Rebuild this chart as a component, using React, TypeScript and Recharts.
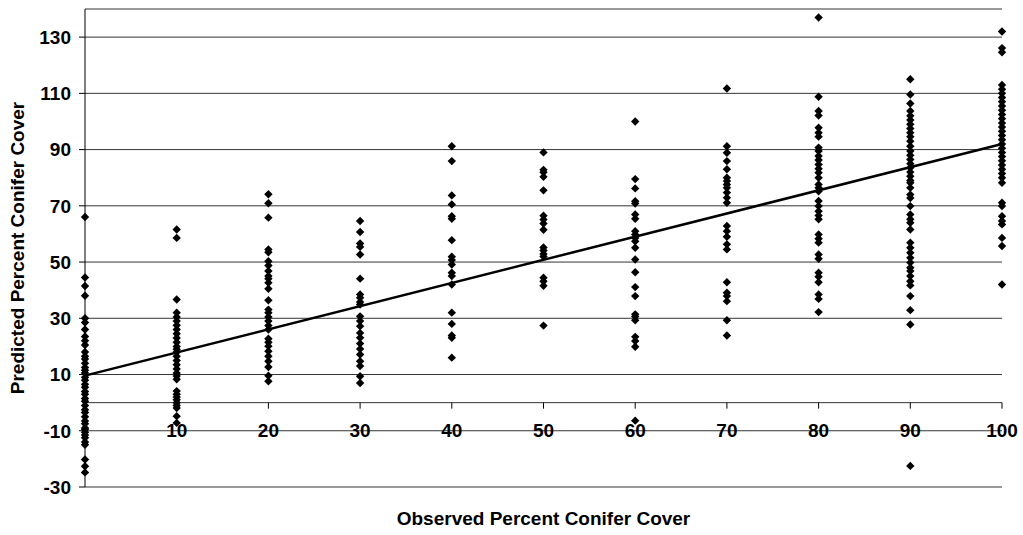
import React from 'react';
import {
  ScatterChart,
  Scatter,
  XAxis,
  YAxis,
  CartesianGrid,
  ReferenceLine,
  ReferenceDot,
} from 'recharts';

// observed cover classes (x) and the predicted values read for each class
const observed = [0, 10, 20, 30, 40, 50, 60, 70, 80, 90, 100];

const pred0 = [66, 44.5, 41.5, 38, 30, 28.5, 26, 23.5, 22, 20.5, 18, 16.5, 15.5, 14, 12.5, 11.5, 10.5, 9, 8, 6.5, 5.5, 4, 3, 1.5, 0.5, -1, -2.5, -3.5, -5, -6.5, -7.5, -9, -9.5, -10.5, -11.5, -12.5, -14, -15, -20.2, -22.6, -24.8];
const pred10 = [61.6, 58.6, 36.7, 32, 30.5, 29, 27.5, 26, 24.5, 23, 21.5, 20, 19, 18, 16.5, 15, 13.5, 12, 10.5, 9.5, 8.3, 4.1, 3, 2, 1, 0, -1, -1.9, -4.8, -7.2];
const pred20 = [74.1, 70.9, 65.8, 54.5, 53.5, 50.3, 48.8, 46.8, 45, 44.1, 42.6, 40.5, 36.4, 33.1, 32, 30.5, 29, 27.4, 26, 22.7, 21.5, 20.1, 18.3, 16.5, 14.7, 12.7, 9.6, 7.6];
const pred30 = [64.6, 60.7, 56.6, 55.4, 52.7, 44.1, 38.5, 37.3, 35.8, 34.9, 30.7, 29, 27.2, 24.8, 23.1, 21, 19.1, 17.1, 14.7, 13, 9.4, 7];
const pred40 = [91.2, 85.9, 73.7, 70.5, 66.3, 65.4, 57.8, 51.9, 50.7, 49.1, 46.2, 45, 42, 32, 28, 23.9, 23.1, 16];
const pred50 = [89, 82.8, 81.9, 80.3, 75.5, 66.5, 65.1, 63.7, 61.5, 55.2, 54.1, 52.9, 52, 44.4, 43.2, 41.6, 27.4];
const pred60 = [100, 79.5, 76.2, 71.6, 70.8, 66.9, 65.4, 61, 59.8, 58.6, 57.4, 55.1, 50.9, 46.4, 41.1, 37.9, 31.4, 30.6, 29.3, 23.4, 21.9, 19.9, -6.4];
const pred70 = [111.7, 91.2, 88.9, 85.9, 83, 80, 78.8, 77.6, 76.4, 74.7, 72.9, 71.1, 62.8, 61, 59, 56.3, 54.5, 42.8, 39.1, 37.9, 36.1, 29.3, 23.9];
const pred80 = [137, 108.8, 103.7, 102.1, 97.8, 96, 94.6, 90.7, 89.5, 87.7, 86.3, 84.7, 83.2, 81.8, 80, 77.6, 76.4, 75.2, 71.7, 69.9, 68.1, 66.6, 65.2, 59.8, 58.3, 56.9, 52.7, 51.2, 46.2, 44.8, 42.8, 38.5, 36.9, 32.2];
const pred90 = [115, 109.6, 106.4, 103.7, 102, 100.5, 99, 97.5, 96, 94.6, 93, 91.2, 89.5, 88, 86.5, 85, 83.5, 82, 80.5, 79, 78.2, 76.4, 74, 72.8, 69.9, 66.9, 65.2, 64, 61.6, 56.9, 55.1, 53.3, 51.5, 49.8, 48, 46.8, 45, 43.2, 41.7, 37.9, 32.9, 27.8, -22.5];
const pred100 = [132, 126.1, 124.6, 113, 111.5, 110, 108.5, 107, 105.5, 104, 102.5, 101, 99.5, 98, 96.5, 95, 93.5, 92, 90.5, 89, 87.5, 86, 84.5, 83, 81.5, 80, 78.2, 71.1, 69.9, 66.3, 64.6, 63.4, 58.6, 55.7, 42];

const predicted = [pred0, pred10, pred20, pred30, pred40, pred50, pred60, pred70, pred80, pred90, pred100];

const yTicks = [-30, -10, 10, 30, 50, 70, 90, 110, 130];
const xTicks = [10, 20, 30, 40, 50, 60, 70, 80, 90, 100];

// fitted regression line end points
const fitLine = [
  { x: 0, y: 9.6 },
  { x: 100, y: 92 },
];

const points = observed.flatMap((x, i) => predicted[i].map((y) => ({ x, y })));

const FONT = '"Liberation Sans", Arial, sans-serif';

const Diamond = (props: any) => {
  const { cx, cy } = props;
  const r = 4.2;
  return (
    <polygon
      points={`${cx},${cy - r} ${cx + r},${cy} ${cx},${cy + r} ${cx - r},${cy}`}
      fill="#000"
    />
  );
};

const XTick = ({ cx, cy, value }: any) => (
  <g>
    <line x1={cx} y1={cy} x2={cx} y2={cy + 6} stroke="#000" />
    <text
      x={cx}
      y={cy + 28}
      textAnchor="middle"
      dominantBaseline="central"
      fontFamily={FONT}
      fontWeight="bold"
      fontSize={19}
      fill="#000"
    >
      {value}
    </text>
  </g>
);

export default function App() {
  return (
    <div style={{ position: 'absolute', left: 0, top: 0, background: '#fff' }}>
      <ScatterChart
        width={1023}
        height={535}
        margin={{ top: 9, right: 21, bottom: 0, left: 0 }}
      >
        <CartesianGrid vertical={false} stroke="#000" strokeOpacity={0.8} />
        <XAxis
          type="number"
          dataKey="x"
          domain={[0, 100]}
          ticks={[]}
          axisLine={false}
          tickLine={false}
          tick={false}
          height={48}
          label={{
            value: 'Observed Percent Conifer Cover',
            position: 'insideBottom',
            offset: 10,
            style: { fontFamily: FONT, fontWeight: 'bold', fontSize: 19, fill: '#000' },
          }}
        />
        <YAxis
          type="number"
          dataKey="y"
          domain={[-30, 140]}
          ticks={yTicks}
          interval={0}
          width={85}
          axisLine={{ stroke: '#000' }}
          tickLine={{ stroke: '#000' }}
          tickSize={6}
          tickMargin={8}
          tick={{ fontFamily: FONT, fontWeight: 'bold', fontSize: 19, fill: '#000' }}
          label={{
            value: 'Predicted Percent Conifer Cover',
            angle: -90,
            position: 'insideLeft',
            offset: 17,
            style: { textAnchor: 'middle', fontFamily: FONT, fontWeight: 'bold', fontSize: 19, fill: '#000' },
          }}
        />
        <ReferenceLine y={0} stroke="#000" strokeOpacity={0.8} />
        {xTicks.map((t) => (
          <ReferenceDot
            key={t}
            x={t}
            y={0}
            r={0}
            shape={(p: any) => <XTick {...p} value={t} />}
          />
        ))}
        <Scatter data={points} shape={<Diamond />} isAnimationActive={false} />
        <Scatter
          data={fitLine}
          line={{ stroke: '#000', strokeWidth: 2.5 }}
          shape={() => null}
          isAnimationActive={false}
        />
      </ScatterChart>
    </div>
  );
}
